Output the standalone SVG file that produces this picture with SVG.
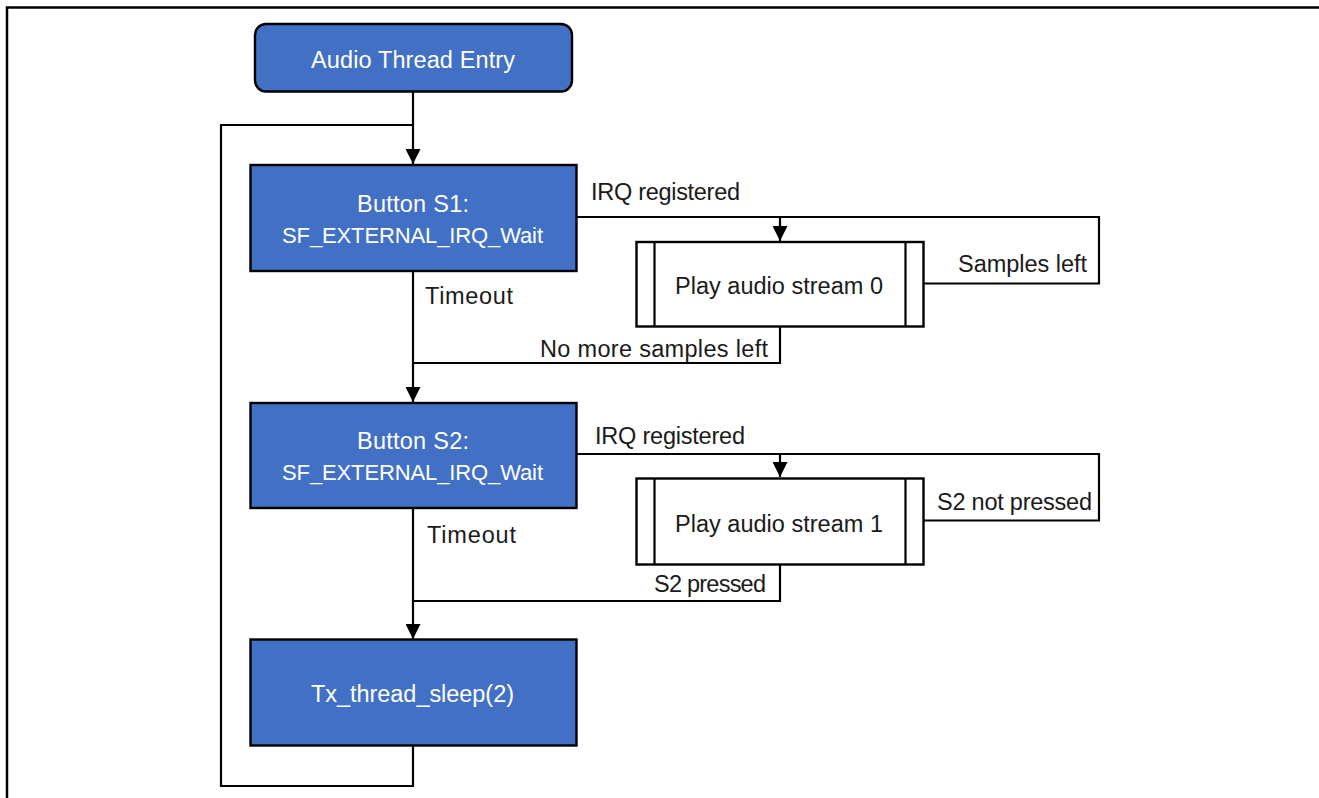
<svg xmlns="http://www.w3.org/2000/svg" width="1319" height="798" viewBox="0 0 1319 798">
<style>
.box{fill:#4170C4;stroke:#000;stroke-width:2.4}
.sub{fill:#fff;stroke:#000;stroke-width:2.4}
.wt{fill:#fff;font-family:"Liberation Sans",Arial,sans-serif;font-size:23.5px}
.sf{font-size:22px}
.lb{fill:#1a1a1a;font-family:"Liberation Sans",Arial,sans-serif;font-size:23.5px}
.ln{fill:none;stroke:#000;stroke-width:2.2}
</style>
<defs>
<marker id="arr" markerUnits="userSpaceOnUse" markerWidth="15" markerHeight="15" refX="15" refY="7.5" orient="auto">
<path d="M0,0 L15,7.5 L0,15 z" fill="#000"/>
</marker>
</defs>
<rect width="1319" height="798" fill="#fff"/>
<path d="M7,798 V7.5 H1319" fill="none" stroke="#000" stroke-width="2.5"/>
<g id="connectors">
<path class="ln" d="M413,92 V164" marker-end="url(#arr)"/>
<path class="ln" d="M413,746 V786 H221 V125 H413"/>
<path class="ln" d="M413,271 V402" marker-end="url(#arr)"/>
<path class="ln" d="M577,217 H1099 V283.5 H923"/>
<path class="ln" d="M780,217 V241" marker-end="url(#arr)"/>
<path class="ln" d="M780,326 V363 H413"/>
<path class="ln" d="M413,508 V639" marker-end="url(#arr)"/>
<path class="ln" d="M577,454 H1099 V520.5 H923"/>
<path class="ln" d="M780,454 V477" marker-end="url(#arr)"/>
<path class="ln" d="M780,565 V601 H413"/>
<text class="lb" x="591" y="199.5" textLength="149">IRQ registered</text>
<text class="lb" x="958" y="272" textLength="129">Samples left</text>
<text class="lb" x="425" y="303.5" textLength="88">Timeout</text>
<text class="lb" x="540" y="356.5" textLength="228">No more samples left</text>
<text class="lb" x="595" y="443.5" textLength="150">IRQ registered</text>
<text class="lb" x="937" y="510" textLength="155">S2 not pressed</text>
<text class="lb" x="427" y="542.5" textLength="89">Timeout</text>
<text class="lb" x="654" y="591.5" textLength="112">S2 pressed</text>
</g>
<g id="entry">
<rect class="box" x="255" y="24" width="317" height="67.5" rx="11"/>
<text class="wt" x="311" y="67.5" textLength="204">Audio Thread Entry</text>
</g>
<g id="s1">
<rect class="box" x="250.5" y="165" width="326" height="106"/>
<text class="wt" x="357" y="211.5" textLength="112">Button S1:</text>
<text class="wt sf" x="282" y="243" textLength="261">SF_EXTERNAL_IRQ_Wait</text>
</g>
<g id="play0">
<rect class="sub" x="636.5" y="242" width="287" height="84.5"/>
<path class="ln" d="M654.5,242 V326.5 M905.5,242 V326.5"/>
<text class="lb" x="675" y="293.5" textLength="208">Play audio stream 0</text>
</g>
<g id="s2">
<rect class="box" x="250.5" y="403" width="326" height="105"/>
<text class="wt" x="357" y="448.5" textLength="112">Button S2:</text>
<text class="wt sf" x="282" y="479.5" textLength="261">SF_EXTERNAL_IRQ_Wait</text>
</g>
<g id="play1">
<rect class="sub" x="636.5" y="478.5" width="287" height="86"/>
<path class="ln" d="M654.5,478.5 V564.5 M905.5,478.5 V564.5"/>
<text class="lb" x="675" y="531.5" textLength="208">Play audio stream 1</text>
</g>
<g id="sleep">
<rect class="box" x="250.5" y="639.5" width="326" height="106"/>
<text class="wt" x="311" y="701.5" textLength="203">Tx_thread_sleep(2)</text>
</g>
</svg>
